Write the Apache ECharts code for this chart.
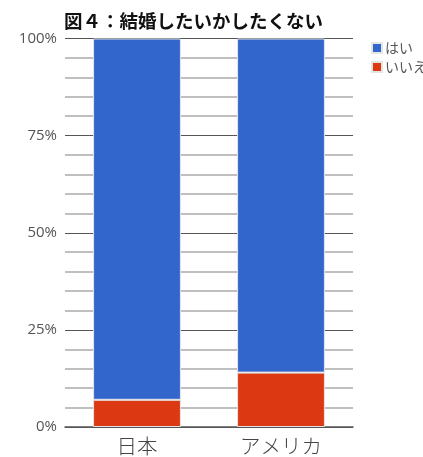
<!DOCTYPE html>
<html>
<head>
<meta charset="utf-8">
<script src="https://cdn.jsdelivr.net/npm/echarts@6/dist/echarts.min.js"></script>
<style>
  html, body { margin: 0; padding: 0; background: #fff; }
  #chart { width: 423px; height: 457px; }
</style>
</head>
<body>
<div id="chart"></div>
<script>
// Survey answers (%), per country
const categories = ['日本', 'アメリカ'];
const yesValues = [93, 86];   // はい
const noValues = [7, 14];     // いいえ
const yTicks = [0, 25, 50, 75, 100];

const chart = echarts.init(document.getElementById('chart'), null, { renderer: 'canvas' });

const barStyle = { borderColor: '#e4e4e4', borderWidth: 1 };

chart.setOption({
  animation: false,
  title: {
    text: '図４：結婚したいかしたくない',
    left: 64,
    top: 12,
    padding: 0,
    textStyle: {
      fontFamily: 'Noto Sans CJK JP',
      fontWeight: 'bold',
      fontSize: 18.5,
      color: '#111'
    }
  },
  legend: {
    data: ['はい', 'いいえ'],
    orient: 'vertical',
    left: 371,
    top: 41,
    padding: 0,
    itemWidth: 10,
    itemHeight: 10,
    itemGap: 5,
    icon: 'rect',
    textStyle: {
      fontFamily: 'Noto Sans CJK JP',
      fontSize: 14,
      lineHeight: 14,
      color: '#555',
      padding: [0, 0, 0, -2]
    }
  },
  grid: { left: 65, right: 70, top: 38.5, bottom: 30 },
  xAxis: {
    type: 'category',
    data: categories,
    axisTick: { show: false },
    axisLine: { lineStyle: { color: '#555', width: 1.5 } },
    axisLabel: {
      fontFamily: 'Noto Sans CJK JP',
      fontWeight: 300,
      fontSize: 20.5,
      color: '#444',
      margin: 9
    }
  },
  yAxis: {
    type: 'value',
    min: yTicks[0],
    max: yTicks[yTicks.length - 1],
    interval: 25,
    axisLine: { show: false },
    axisTick: { show: false },
    axisLabel: {
      formatter: '{value}%',
      fontFamily: '"Open Sans", sans-serif',
      fontSize: 15,
      color: '#555',
      margin: 8
    },
    splitLine: { lineStyle: { color: '#555', width: 1.2 } },
    minorTick: { show: false, splitNumber: 5 },
    minorSplitLine: { show: true, lineStyle: { color: '#aaa', width: 1.5 } }
  },
  series: [
    {
      name: 'いいえ',
      type: 'bar',
      stack: 'total',
      barWidth: '61%',
      data: noValues,
      itemStyle: Object.assign({ color: '#dc3912' }, barStyle)
    },
    {
      name: 'はい',
      type: 'bar',
      stack: 'total',
      barWidth: '61%',
      data: yesValues,
      itemStyle: Object.assign({ color: '#3366cc' }, barStyle)
    }
  ]
});
</script>
</body>
</html>
